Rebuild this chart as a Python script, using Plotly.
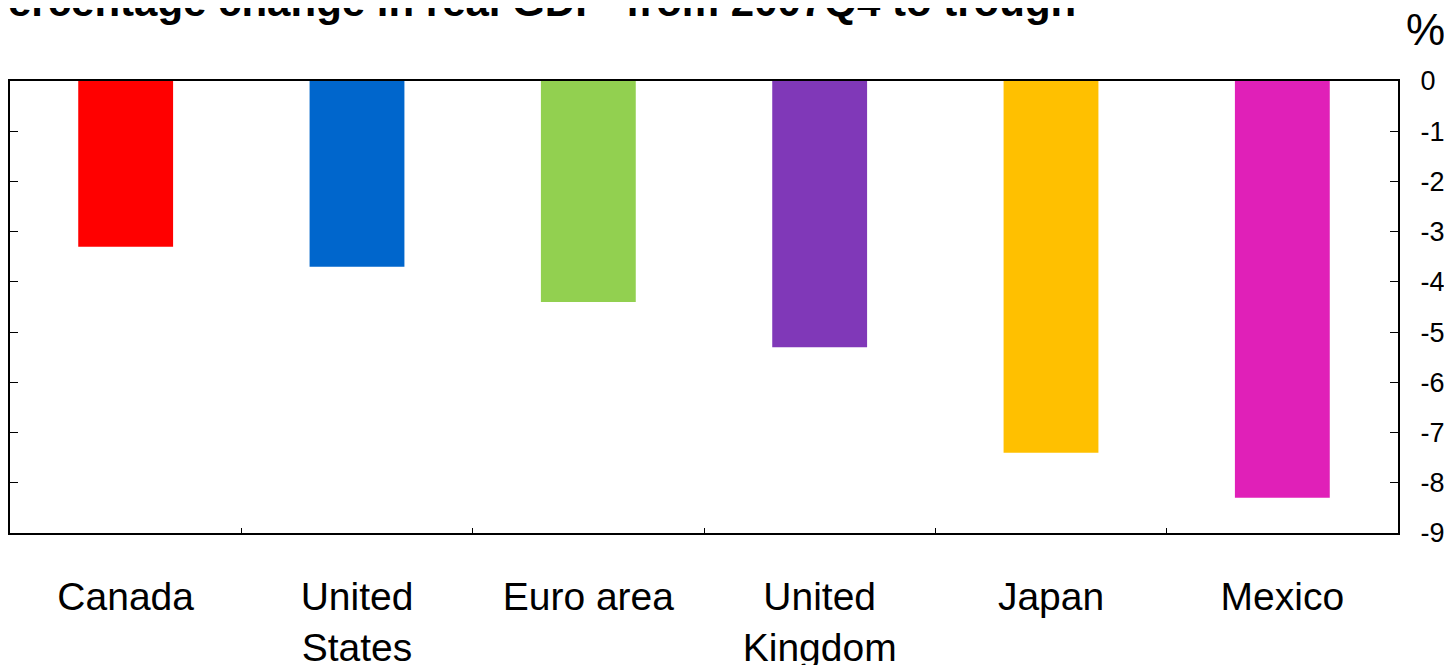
import plotly.graph_objects as go

categories = ["Canada", "United<br>States", "Euro area", "United<br>Kingdom", "Japan", "Mexico"]
values = [-3.3, -3.7, -4.4, -5.3, -7.4, -8.3]
colors = ["#FF0000", "#0066CC", "#92D050", "#8038B8", "#FFC000", "#E020B8"]
y_ticks = [0, -1, -2, -3, -4, -5, -6, -7, -8, -9]
title_text = "ercentage change in real GDP  from 2007Q4 to trough"

W, H = 1452, 665
# the page body adds an 8px offset, so margins compensate
L, R, T, B = 2, 62, 73, 140
PW, PH = W - L - R, H - T - B

fig = go.Figure(go.Bar(
    x=categories, y=values, marker=dict(color=colors, line=dict(width=0)),
    width=0.41, showlegend=False,
))

font = "Liberation Sans, Arial, sans-serif"
fig.update_layout(
    width=W, height=H,
    margin=dict(l=L, r=R, t=T, b=B, pad=0, autoexpand=False),
    paper_bgcolor="white", plot_bgcolor="white",
    font=dict(family=font, color="black"),
    bargap=0.59,
)
fig.update_xaxes(
    type="category", showline=True, linecolor="black", linewidth=2, mirror=True,
    ticks="inside", tickson="boundaries", ticklen=5, tickcolor="black", tickwidth=1,
    tickfont=dict(size=39, family=font), showgrid=False, ticklabelstandoff=28,
    automargin=False,
)
fig.update_yaxes(
    side="right", range=[-9, 0], tickvals=y_ticks, ticktext=[str(v) for v in y_ticks],
    showline=True, linecolor="black", linewidth=2, mirror="ticks",
    ticks="inside", ticklen=8, tickcolor="black", tickwidth=1,
    tickfont=dict(size=27, family=font), showgrid=False, zeroline=False,
    ticklabelstandoff=15, automargin=False,
)
fig.add_annotation(
    text="<b>" + title_text + "</b>", xref="paper", yref="paper",
    x=-4 / PW, y=1 + 54 / PH, xanchor="left", yanchor="bottom",
    showarrow=False, font=dict(size=42, family=font),
)
fig.add_annotation(
    text="%", xref="paper", yref="paper",
    x=1 + 6 / PW, y=1 + 25 / PH, xanchor="left", yanchor="bottom",
    showarrow=False, font=dict(size=44, family=font),
)
fig.write_html("out.html")
